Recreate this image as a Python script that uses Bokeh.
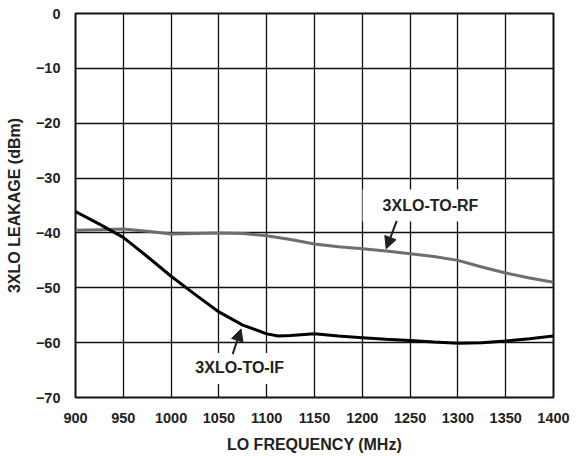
from bokeh.plotting import figure
from bokeh.models import Range1d, FixedTicker, Label, Arrow, NormalHead
from bokeh.embed import file_html
from bokeh.resources import INLINE

# ---- data ----
freq_if = [900, 925, 950, 975, 1000, 1025, 1050, 1075, 1100, 1112, 1125, 1150, 1175, 1200,
           1225, 1250, 1275, 1300, 1325, 1350, 1375, 1400]
leak_if = [-36.1, -38.4, -40.8, -44.3, -47.9, -51.2, -54.4, -56.8, -58.4, -58.8, -58.7, -58.4,
           -58.8, -59.1, -59.4, -59.6, -59.9, -60.1, -60.0, -59.7, -59.3, -58.8]
freq_rf = [900, 925, 950, 975, 1000, 1025, 1050, 1075, 1100, 1125, 1150, 1175, 1200,
           1225, 1250, 1275, 1300, 1325, 1350, 1375, 1400]
leak_rf = [-39.5, -39.4, -39.3, -39.7, -40.2, -40.1, -40.0, -40.1, -40.5, -41.2, -42.0, -42.5,
           -42.9, -43.3, -43.8, -44.3, -45.0, -46.2, -47.3, -48.2, -49.0]
x_ticks = [900, 950, 1000, 1050, 1100, 1150, 1200, 1250, 1300, 1350, 1400]
y_ticks = [0, -10, -20, -30, -40, -50, -60, -70]
y_tick_labels = ["0", "\u221210", "\u221220", "\u221230", "\u221240", "\u221250", "\u221260", "\u221270"]
label_rf = "3XLO-TO-RF"
label_if = "3XLO-TO-IF"

FONT = "Liberation Sans"
TXT = "#222222"

p = figure(width=585, height=456, output_backend="svg", toolbar_location=None,
           x_range=Range1d(900, 1400), y_range=Range1d(-70, 0),
           min_border_left=75, min_border_right=32, min_border_top=13, min_border_bottom=59)
p.background_fill_color = "white"
p.border_fill_color = "white"
p.outline_line_color = "#111111"
p.outline_line_width = 2

for ax in (p.xaxis[0], p.yaxis[0]):
    ax.axis_line_color = None
    ax.major_tick_line_color = None
    ax.minor_tick_line_color = None
    ax.major_label_text_font = FONT
    ax.major_label_text_font_style = "bold"
    ax.major_label_text_font_size = "14.5px"
    ax.major_label_text_color = TXT
    ax.axis_label_text_font = FONT
    ax.axis_label_text_font_style = "bold"
    ax.axis_label_text_font_size = "16px"
    ax.axis_label_text_color = TXT

p.xaxis.ticker = FixedTicker(ticks=x_ticks)
p.yaxis.ticker = FixedTicker(ticks=y_ticks)
p.yaxis.major_label_overrides = {t: s for t, s in zip(y_ticks, y_tick_labels)}
p.xaxis.axis_label = "LO FREQUENCY (MHz)"
p.yaxis.axis_label = "3XLO LEAKAGE (dBm)"
p.xaxis.major_label_standoff = 9
p.yaxis.major_label_standoff = 9
p.xaxis.axis_label_standoff = 10
p.yaxis.axis_label_standoff = 10

p.grid.grid_line_color = "#111111"
p.grid.grid_line_width = 1.3
p.grid.grid_line_alpha = 1.0

p.line(freq_rf, leak_rf, line_color="#6e6e6e", line_width=3, line_join="round")
p.line(freq_if, leak_if, line_color="black", line_width=3, line_join="round")

for txt, x, y, pad in ((label_rf, 1265, -35.0, (20, 8, 7, 8)),
                       (label_if, 1068, -64.7, (15, 8, 6, 8))):
    p.add_layout(Label(x=x, y=y, text=txt, text_align="center", text_baseline="middle",
                       text_font=FONT, text_font_style="bold", text_font_size="16px",
                       text_color=TXT, background_fill_color="white",
                       padding=pad))

for (x0, y0, x1, y1) in ((1236, -37.8, 1225, -42.9), (1064.4, -62.1, 1073.2, -57.5)):
    p.add_layout(Arrow(x_start=x0, y_start=y0, x_end=x1, y_end=y1,
                       line_color=TXT, line_width=2,
                       end=NormalHead(size=12, fill_color=TXT, line_color=TXT,
                                      line_width=1)))

open("out.html", "w").write(file_html(p, INLINE))
